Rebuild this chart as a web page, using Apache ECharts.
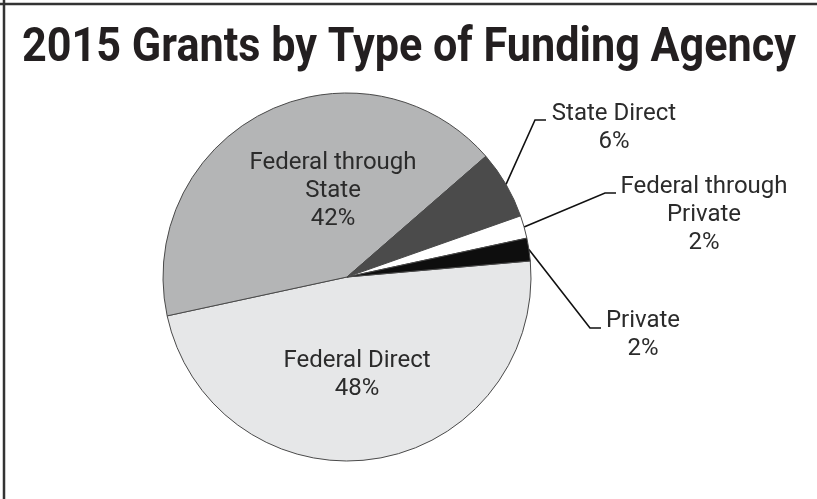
<!DOCTYPE html>
<html>
<head>
<meta charset="utf-8">
<script src="https://cdn.jsdelivr.net/npm/echarts@6/dist/echarts.min.js"></script>
<style>
  html, body { margin: 0; padding: 0; background: #fff; }
  #chart { width: 817px; height: 499px; }
</style>
</head>
<body>
<div id="chart"></div>
<script>
// Share of 2015 grants by funding agency type (percent)
const titleText = '2015 Grants by Type of Funding Agency';
const categories = ['Federal Direct', 'Federal through State', 'State Direct', 'Federal through Private', 'Private'];
const labelNames = ['Federal Direct', 'Federal through\nState', 'State Direct', 'Federal through\nPrivate', 'Private'];
const shares = [48, 42, 6, 2, 2];

// Styling, kept apart from the data
const sliceColors = ['#e6e7e8', '#b4b5b6', '#4b4b4b', '#ffffff', '#0e0e0e'];
const outsideLabel = [false, false, true, true, true];
// Label anchors (centre of each text block) and label-line bends
const labelSpots = [
  { x: 357, y: 375 },
  { x: 333, y: 191 },
  { x: 614, y: 128, bend: [[535, 120], [546, 120]] },
  { x: 704, y: 215, bend: [[605, 193], [616, 193]] },
  { x: 643, y: 335, bend: [[590, 328], [601, 328]] }
];

const chart = echarts.init(document.getElementById('chart'), null, { renderer: 'canvas' });

// Title is a condensed bold face; squeeze Roboto Bold horizontally to fit
const titleFont = 'bold 48px Roboto';
const ctx = document.createElement('canvas').getContext('2d');
ctx.font = titleFont;
const titleWidth = ctx.measureText(titleText).width;
const titleScale = 774 / titleWidth;

const pieData = categories.map((name, i) => ({
  name: name,
  value: shares[i],
  itemStyle: { color: sliceColors[i] },
  label: {
    show: true,
    position: outsideLabel[i] ? 'outside' : 'inside',
    formatter: labelNames[i] + '\n' + shares[i] + '%'
  },
  labelLine: { show: outsideLabel[i] }
}));

chart.setOption({
  backgroundColor: '#ffffff',
  animation: false,
  graphic: [
    {
      type: 'line',
      shape: { x1: 0, y1: 4, x2: 817, y2: 4 },
      style: { stroke: '#333333', lineWidth: 2.5 },
      z: 10
    },
    {
      type: 'line',
      shape: { x1: 4, y1: 0, x2: 4, y2: 499 },
      style: { stroke: '#333333', lineWidth: 2.5 },
      z: 10
    },
    {
      type: 'text',
      x: 22,
      y: 49,
      scaleX: titleScale,
      style: {
        text: titleText,
        font: titleFont,
        fill: '#231f20',
        textAlign: 'left',
        textVerticalAlign: 'middle'
      }
    }
  ],
  series: [{
    type: 'pie',
    center: [347, 277],
    radius: [0, 184],
    startAngle: 5,
    clockwise: true,
    avoidLabelOverlap: false,
    itemStyle: { borderColor: '#4a4a4a', borderWidth: 1 },
    label: {
      color: '#2b2b2b',
      fontFamily: 'Roboto',
      fontSize: 24,
      lineHeight: 28,
      align: 'center'
    },
    labelLine: {
      lineStyle: { color: '#111111', width: 1.6 }
    },
    emphasis: { disabled: true },
    labelLayout: function (params) {
      const spot = labelSpots[params.dataIndex];
      const out = { x: spot.x, y: spot.y, align: 'center', verticalAlign: 'middle' };
      if (spot.bend && params.labelLinePoints) {
        out.labelLinePoints = [params.labelLinePoints[0]].concat(spot.bend);
      }
      return out;
    },
    data: pieData
  }]
});
</script>
</body>
</html>
